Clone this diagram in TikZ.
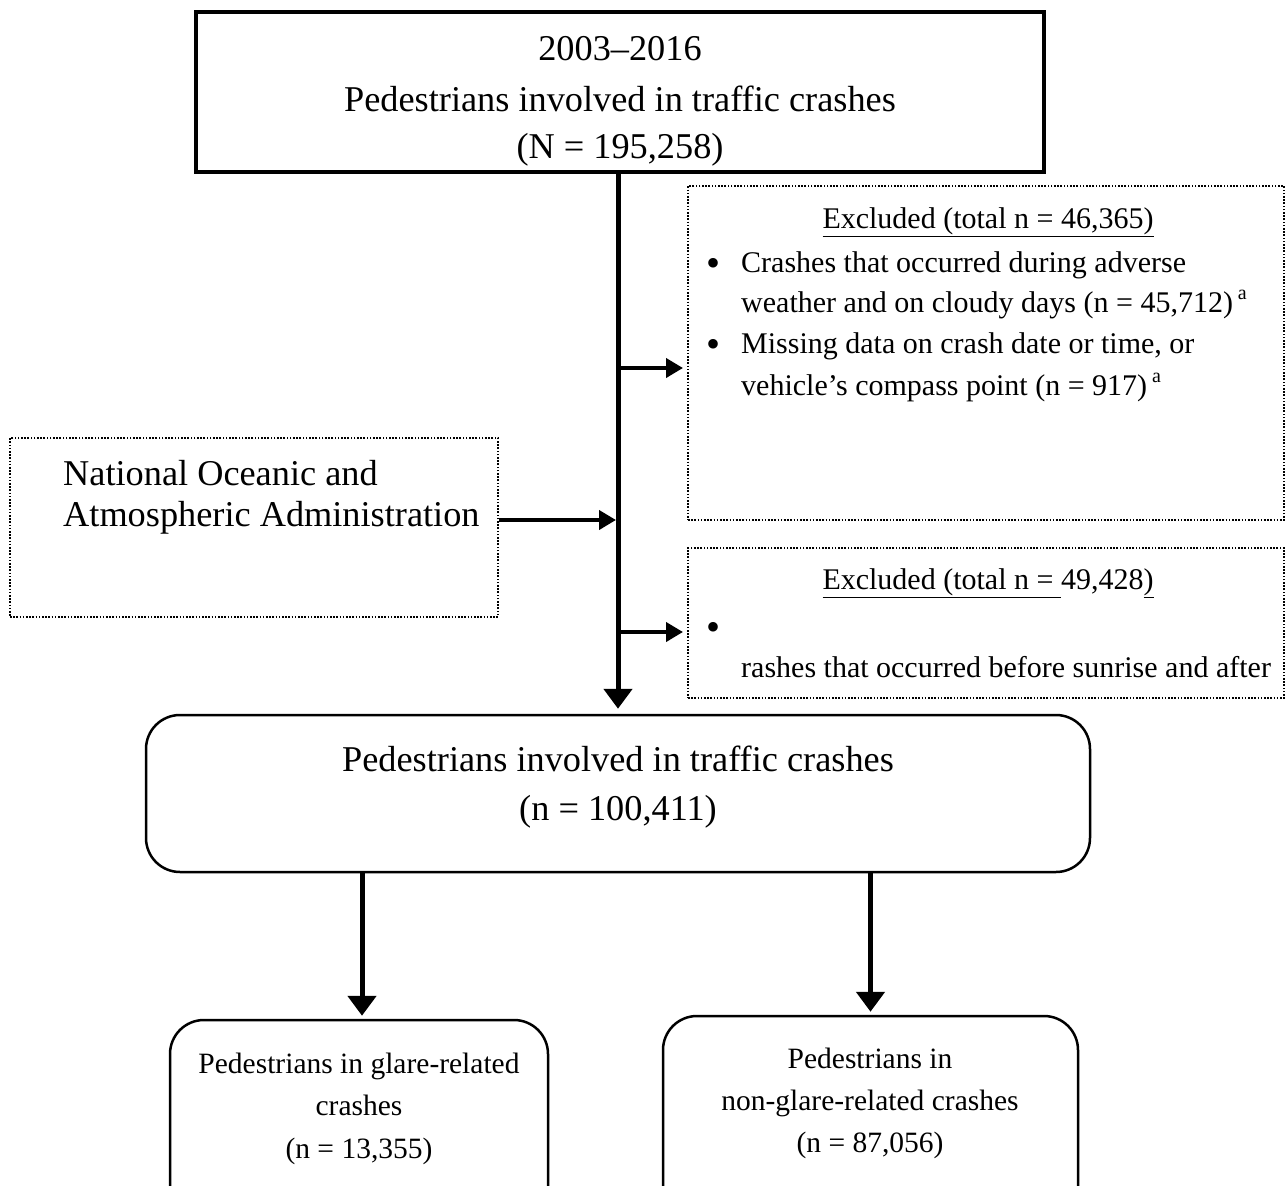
\documentclass[tikz,border=0pt]{standalone}
\usepackage{fontspec}
\setmainfont{Liberation Serif}
\usetikzlibrary{arrows.meta}
\newcommand\fszBig{\fontsize{36.3}{41}\selectfont}
\newcommand\fszSmall{\fontsize{29.5}{34}\selectfont}
\newcommand\fszEx{\fontsize{30}{34}\selectfont}
\newcommand\supa{\,\raisebox{0.42em}{\fontsize{20}{20}\selectfont a}}
\begin{document}
\begin{tikzpicture}[x=1pt,y=-1pt,
  solidbox/.style={draw, line width=3.5pt, inner sep=0pt},
  dotbox/.style={draw, line width=2pt, dash pattern=on 1.6pt off 1.6pt, inner sep=0pt},
  roundbox/.style={draw, line width=2.5pt, rounded corners=34pt, inner sep=0pt},
  bigtxt/.style={anchor=base, inner sep=0pt, font=\fszBig},
  bigltxt/.style={anchor=base west, inner sep=0pt, font=\fszBig},
  smtxt/.style={anchor=base, inner sep=0pt, font=\fszSmall},
  extxt/.style={anchor=base, inner sep=0pt, font=\fszEx},
  exltxt/.style={anchor=base west, inner sep=0pt, font=\fszEx},
  bul/.style={anchor=base, inner sep=0pt, font=\fontsize{40}{40}\selectfont},
  arrbig/.style={line width=5pt, -{Triangle[length=20pt,width=28pt]}},
  arrsm/.style={line width=4pt, -{Triangle[length=17pt,width=19pt]}}]
\useasboundingbox (0,0) rectangle (1286,1186);
\clip (0,0) rectangle (1286,1186);
\fill[white] (0,0) rectangle (1286,1186);

% boxes
\node[solidbox, minimum width=848pt, minimum height=160pt] (top) at (620,92) {};
\node[dotbox, minimum width=596pt, minimum height=334pt] (ex1) at (986,353) {};
\node[dotbox, minimum width=596pt, minimum height=150pt] (ex2) at (986,623) {};
\node[dotbox, minimum width=488pt, minimum height=179pt] (noaa) at (254,527.5) {};
\node[roundbox, minimum width=944pt, minimum height=157pt] (mid) at (618,793.5) {};
\node[roundbox, minimum width=378pt, minimum height=200pt] (bl) at (359,1120) {};
\node[roundbox, minimum width=415pt, minimum height=204pt] (br) at (870.5,1118) {};

% top box text
\node[bigtxt] (t1) at (620,60) {2003–2016};
\node[bigtxt] (t2) at (620,111) {Pedestrians involved in traffic crashes};
\node[bigtxt] (t3) at (620,158) {(N = 195,258)};

% excluded 1
\node[extxt] (e1t) at (988,228) {\underline{Excluded (total n = 46,365)}};
\node[bul] (e1b1) at (713,276) {\textbullet};
\node[exltxt] (e1l1) at (741,272) {Crashes that occurred during adverse};
\node[exltxt] (e1l2) at (741,312) {weather and on cloudy days (n = 45,712)\supa};
\node[bul] (e1b2) at (713,357) {\textbullet};
\node[exltxt] (e1l3) at (741,353) {Missing data on crash date or time, or};
\node[exltxt] (e1l4) at (741,395) {vehicle’s compass point (n = 917)\supa};

% excluded 2
\node[extxt] (e2t) at (988,589) {\underline{Excluded (total n =\ }49,428\underline{)}};
\node[bul] (e2b) at (713,640) {\textbullet};
\node[exltxt] (e2l) at (741,677) {rashes that occurred before sunrise and after};

% NOAA
\node[bigltxt] (n1) at (63,485) {National Oceanic and};
\node[bigltxt] (n2) at (63,526) {Atmospheric Administration};

% middle
\node[bigtxt] (m1) at (618,771) {Pedestrians involved in traffic crashes};
\node[bigtxt] (m2) at (618,820) {(n = 100,411)};

% bottom left
\node[smtxt] (bl1) at (359,1073) {Pedestrians in glare-related};
\node[smtxt] (bl2) at (359,1115) {crashes};
\node[smtxt] (bl3) at (359,1158) {(n = 13,355)};

% bottom right
\node[smtxt] (br1) at (870,1068) {Pedestrians in};
\node[smtxt] (br2) at (870,1110) {non-glare-related crashes};
\node[smtxt] (br3) at (870,1152) {(n = 87,056)};

% connectors
\coordinate (j1) at (618,368);
\coordinate (j2) at (618,520);
\coordinate (j3) at (618,632);
\draw[arrbig, shorten >=5pt] (top.south -| mid.north) -- (mid.north);
\draw[arrsm, shorten >=4pt] (j1) -- (ex1.west |- j1);
\draw[arrsm, shorten >=2pt] (noaa.east |- j2) -- (j2);
\draw[arrsm, shorten >=4pt] (j3) -- (ex2.west |- j3);
\draw[arrbig, shorten >=3pt] ([xshift=3pt]mid.south -| bl.north) -- ([xshift=3pt]bl.north);
\draw[arrbig, shorten >=3pt] (mid.south -| br.north) -- (br.north);
\end{tikzpicture}
\end{document}
